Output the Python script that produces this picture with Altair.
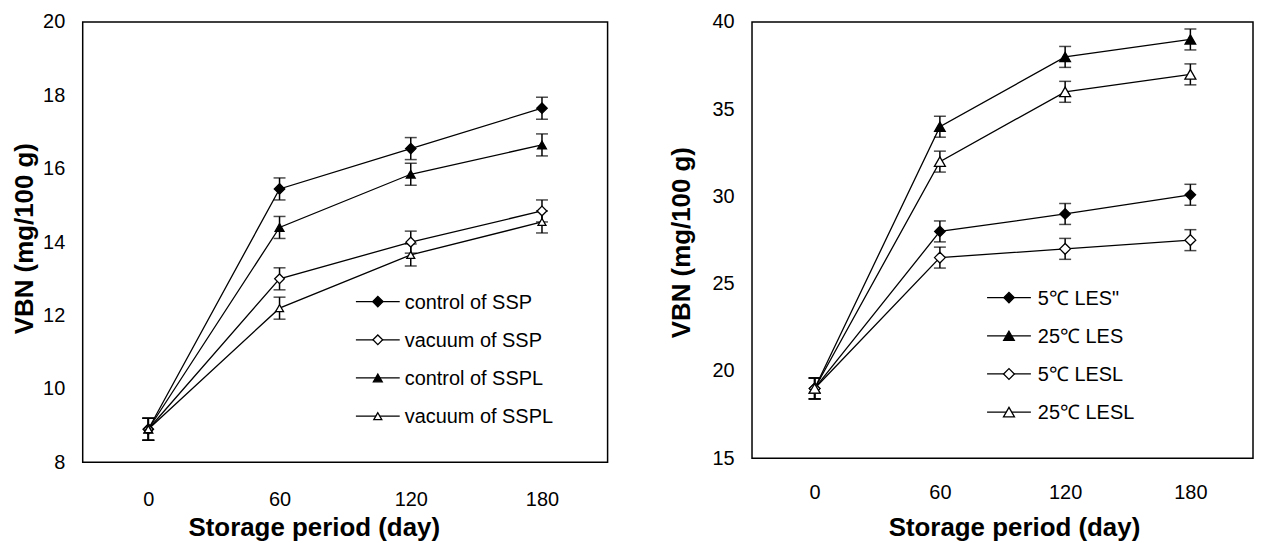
import altair as alt
import pandas as pd

# ---------------- data ----------------
days = [0, 60, 120, 180]

left_series = ["control of SSP", "vacuum of SSP", "control of SSPL", "vacuum of SSPL"]
ssp_control = [8.9, 15.45, 16.55, 17.65]
ssp_vacuum = [8.9, 13.0, 14.0, 14.85]
sspl_control = [8.9, 14.4, 15.85, 16.65]
sspl_vacuum = [8.9, 12.2, 13.65, 14.55]
left_err = [0.3, 0.3, 0.3, 0.3]

right_series = ['5℃ LES"', "25℃ LES", "5℃ LESL", "25℃ LESL"]
les_5 = [19.0, 28.0, 29.0, 30.1]
les_25 = [19.0, 34.0, 38.0, 39.0]
lesl_5 = [19.0, 26.5, 27.0, 27.5]
lesl_25 = [19.0, 32.0, 36.0, 37.0]
right_err = [0.6, 0.6, 0.6, 0.6]

left_ticks = [8, 10, 12, 14, 16, 18, 20]
right_ticks = [15, 20, 25, 30, 35, 40]

FONT = "Liberation Sans"


def long_table(names, values, errs):
    rows = []
    for name, vals in zip(names, values):
        for d, v, e in zip(days, vals, errs):
            rows.append({"day": d, "vbn": v, "lo": v - e, "hi": v + e, "series": name})
    return pd.DataFrame(rows)


def panel(df, names, shapes, fills, sizes, ydom, yticks, w, h, x_label_pad, x_title_y,
          x_title_x, y_title_x, y_title_y, leg_rows, leg_cx, leg_text_x):
    xscale = alt.Scale(domain=[-30, 210], nice=False, zero=False)
    yscale = alt.Scale(domain=ydom, nice=False, zero=False)
    xaxis = alt.Axis(values=days, grid=False, ticks=False, tickSize=0, domain=False,
                     labelFont=FONT, labelFontSize=20, labelColor="black",
                     labelPadding=x_label_pad,
                     title="Storage period (day)", titleFont=FONT, titleFontSize=26,
                     titleFontWeight="bold", titleColor="black",
                     titleX=x_title_x, titleY=x_title_y, titleAlign="center",
                     titleBaseline="alphabetic", titleAnchor="middle")
    yaxis = alt.Axis(values=yticks, grid=False, ticks=False, tickSize=0, domain=False,
                     labelFont=FONT, labelFontSize=20, labelColor="black", labelPadding=18,
                     title="VBN (mg/100 g)", titleFont=FONT, titleFontSize=26,
                     titleFontWeight="bold", titleColor="black", titleAngle=270,
                     titleX=y_title_x, titleY=y_title_y, titleAlign="center",
                     titleBaseline="middle")
    shape_enc = alt.Shape("series:N", scale=alt.Scale(domain=names, range=shapes), legend=None)
    fill_enc = alt.Fill("series:N", scale=alt.Scale(domain=names, range=fills), legend=None)
    size_enc = alt.Size("series:N", scale=alt.Scale(domain=names, range=sizes), legend=None)

    base = alt.Chart(df)
    lines = base.mark_line(color="black", strokeWidth=1.3).encode(
        x=alt.X("day:Q", scale=xscale, axis=xaxis),
        y=alt.Y("vbn:Q", scale=yscale, axis=yaxis), detail="series:N")
    bars = base.mark_rule(color="black", strokeWidth=1.5).encode(
        x="day:Q", y="lo:Q", y2="hi:Q")
    cap_lo = base.mark_tick(color="black", orient="horizontal", size=12, thickness=1.5).encode(
        x="day:Q", y="lo:Q")
    cap_hi = base.mark_tick(color="black", orient="horizontal", size=12, thickness=1.5).encode(
        x="day:Q", y="hi:Q")
    points = base.mark_point(filled=True, stroke="black", strokeWidth=1.3, opacity=1).encode(
        x="day:Q", y="vbn:Q", shape=shape_enc, fill=fill_enc, size=size_enc)
    data_layer = alt.layer(lines, bars, cap_lo, cap_hi, points)

    # legend drawn inside the plot, one row per series
    leg = alt.Chart(pd.DataFrame({"series": names}))
    ly = alt.Y("series:N", scale=alt.Scale(type="point", domain=names, range=leg_rows,
                                           padding=0), axis=None)
    leg_line = leg.mark_rule(color="black", strokeWidth=1.3).encode(
        x=alt.value(leg_cx - 22), x2=alt.value(leg_cx + 22), y=ly)
    leg_pts = leg.mark_point(filled=True, stroke="black", strokeWidth=1.3, opacity=1).encode(
        x=alt.value(leg_cx), y=ly, shape=shape_enc, fill=fill_enc, size=size_enc)
    leg_txt = leg.mark_text(align="left", baseline="middle", dy=1, font=FONT, fontSize=20,
                            color="black").encode(
        x=alt.value(leg_text_x), y=ly, text="series:N")
    legend_layer = alt.layer(leg_line, leg_pts, leg_txt)

    return alt.layer(data_layer, legend_layer).resolve_scale(y="independent").properties(
        width=w, height=h)


left_df = long_table(left_series, [ssp_control, ssp_vacuum, sspl_control, sspl_vacuum], left_err)
right_df = long_table(right_series, [les_5, les_25, lesl_5, lesl_25], right_err)

left = panel(left_df, left_series,
             ["diamond", "diamond", "triangle-up", "triangle-up"],
             ["black", "white", "black", "white"],
             [110, 64, 121, 100],
             [8, 20], left_ticks, 527, 442, 27, 74,
             x_title_x=232, y_title_x=-58, y_title_y=217,
             leg_rows=[280.7, 395.7], leg_cx=296.3, leg_text_x=323.3)

right = panel(right_df, right_series,
              ["diamond", "triangle-up", "diamond", "triangle-up"],
              ["black", "black", "white", "white"],
              [110, 121, 64, 100],
              [15, 40], right_ticks, 503, 438, 24, 78,
              x_title_x=263, y_title_x=-71, y_title_y=221,
              leg_rows=[276.7, 391.7], leg_cx=258, leg_text_x=287)

chart = alt.hconcat(left, right, spacing=59).resolve_scale(
    shape="independent", fill="independent", size="independent"
).properties(
    padding={"left": 3, "top": 2, "right": 0, "bottom": 0}
).configure(
    font=FONT, background="white"
).configure_view(
    stroke="black", strokeWidth=1.5
)

chart.save("out.html", embed_options={"renderer": "svg", "actions": False})
